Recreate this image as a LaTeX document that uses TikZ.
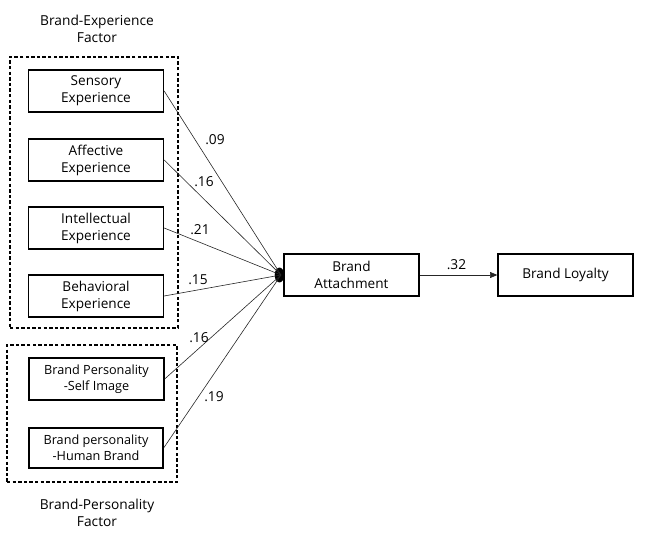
\documentclass[tikz,border=0pt]{standalone}
\usepackage{fontspec}
\setmainfont{Open Sans}
\usetikzlibrary{arrows.meta}
\begin{document}
\begin{tikzpicture}[x=0.75pt,y=-0.75pt,
  box/.style={draw, line width=1pt, fill=white, minimum width=101.25pt, minimum height=31.5pt,
    inner sep=0pt, align=center, font=\fontsize{10.2}{12.75}\selectfont},
  pbox/.style={box, font=\fontsize{9.5}{11.75}\selectfont},
  group/.style={draw, line width=0.95pt, dash pattern=on 2.6pt off 1.6pt, inner sep=0pt},
  title/.style={align=center, font=\fontsize{10.3}{12.75}\selectfont},
  weight/.style={font=\fontsize{10.3}{12}\selectfont, inner sep=0pt},
  edge/.style={draw=black!85, line width=0.45pt}]
\useasboundingbox (0,0) rectangle (646,534);
% group frames
\node[group, minimum width=126pt, minimum height=203.25pt] (g1) at (94,192.5) {};
\node[group, minimum width=127.5pt, minimum height=102.75pt] (g2) at (92,413.5) {};
\node[title] (t1) at (97,28.5) {Brand-Experience\\Factor};
\node[title] (t2) at (97,512.5) {Brand-Personality\\Factor};
% hub
\coordinate (hub) at (281,275);
\fill (279.5,275) ellipse [x radius=3.6pt, y radius=5.6pt];
% boxes
\node[box] (sens) at (96,91) {Sensory\\Experience};
\node[box] (aff) at (96,160) {Affective\\Experience};
\node[box] (int) at (96,228) {Intellectual\\Experience};
\node[box] (beh) at (96,296) {Behavioral\\Experience};
\node[pbox, minimum width=101.25pt] (self) at (96.5,379) {Brand Personality\\-Self Image};
\node[pbox, line width=1.5pt, minimum width=100.5pt, minimum height=30pt] (human) at (96,447.5) {Brand personality\\-Human Brand};
\node[box] (att) at (351.5,275) {Brand\\Attachment};
\node[box] (loy) at (565.5,275) {Brand Loyalty};
% edges
\draw[edge] (sens.east) -- (hub);
\draw[edge] (aff.east) -- (hub);
\draw[edge] (int.east) -- (hub);
\draw[edge] (beh.east) -- (hub);
\draw[edge] (self.east) -- (hub);
\draw[edge] (human.east) -- (hub);
\draw[edge, -{Triangle[length=5.5pt,width=4.5pt]}] (att.east) -- (loy.west);
% weights
\node[weight] (w1) at (215,140) {.09};
\node[weight] (w2) at (204,182) {.16};
\node[weight] (w3) at (200,230) {.21};
\node[weight] (w4) at (198,280) {.15};
\node[weight] (w5) at (199,337.5) {.16};
\node[weight] (w6) at (214,396.5) {.19};
\node[weight] (w7) at (456.5,264.5) {.32};
\end{tikzpicture}
\end{document}
